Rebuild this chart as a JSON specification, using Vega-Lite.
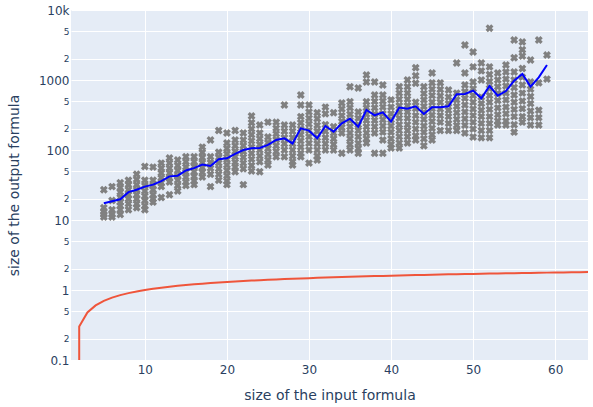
{
"$schema": "https://vega.github.io/schema/vega-lite/v6.json",
"width": 517, "height": 350,
"autosize": {"type": "none"},
"padding": {"left": 71, "top": 10, "right": 5, "bottom": 47},
"background": "white",
"config": {"view": {"fill": "#E5ECF6", "stroke": null}, "font": "DejaVu Sans"},
"datasets": {
"pts": [
{"input":5,"output":27},{"input":5,"output":15},{"input":5,"output":13},{"input":5,"output":12},{"input":5,"output":11},
{"input":6,"output":30},{"input":6,"output":19},{"input":6,"output":14},{"input":6,"output":12},{"input":6,"output":11},
{"input":7,"output":34},{"input":7,"output":29},{"input":7,"output":25},{"input":7,"output":21},{"input":7,"output":18},{"input":7,"output":16},{"input":7,"output":14},{"input":7,"output":12},
{"input":8,"output":37},{"input":8,"output":32},{"input":8,"output":27},{"input":8,"output":23},{"input":8,"output":20},{"input":8,"output":17},{"input":8,"output":14},
{"input":9,"output":45},{"input":9,"output":38},{"input":9,"output":32},{"input":9,"output":27},{"input":9,"output":23},{"input":9,"output":20},{"input":9,"output":17},{"input":9,"output":15},
{"input":10,"output":58},{"input":10,"output":37},{"input":10,"output":31},{"input":10,"output":26},{"input":10,"output":22},{"input":10,"output":19},{"input":10,"output":16},{"input":10,"output":14},
{"input":11,"output":57},{"input":11,"output":37},{"input":11,"output":31},{"input":11,"output":27},{"input":11,"output":23},{"input":11,"output":20},{"input":11,"output":18},
{"input":12,"output":65},{"input":12,"output":55},{"input":12,"output":47},{"input":12,"output":40},{"input":12,"output":34},{"input":12,"output":30},{"input":12,"output":21},
{"input":13,"output":77},{"input":13,"output":65},{"input":13,"output":55},{"input":13,"output":47},{"input":13,"output":40},{"input":13,"output":35},{"input":13,"output":23},
{"input":14,"output":72},{"input":14,"output":60},{"input":14,"output":51},{"input":14,"output":43},{"input":14,"output":37},{"input":14,"output":31},{"input":14,"output":26},
{"input":15,"output":80},{"input":15,"output":68},{"input":15,"output":57},{"input":15,"output":48},{"input":15,"output":41},{"input":15,"output":35},{"input":15,"output":31},
{"input":16,"output":80},{"input":16,"output":68},{"input":16,"output":58},{"input":16,"output":49},{"input":16,"output":42},{"input":16,"output":36},{"input":16,"output":32},
{"input":17,"output":110},{"input":17,"output":92},{"input":17,"output":78},{"input":17,"output":66},{"input":17,"output":56},{"input":17,"output":48},{"input":17,"output":41},
{"input":18,"output":139},{"input":18,"output":80},{"input":18,"output":66},{"input":18,"output":55},{"input":18,"output":45},{"input":18,"output":30},
{"input":19,"output":190},{"input":19,"output":93},{"input":19,"output":78},{"input":19,"output":65},{"input":19,"output":54},{"input":19,"output":45},{"input":19,"output":37},
{"input":20,"output":175},{"input":20,"output":126},{"input":20,"output":105},{"input":20,"output":88},{"input":20,"output":73},{"input":20,"output":61},{"input":20,"output":51},{"input":20,"output":43},{"input":20,"output":36},{"input":20,"output":32},
{"input":21,"output":190},{"input":21,"output":139},{"input":21,"output":115},{"input":21,"output":95},{"input":21,"output":80},{"input":21,"output":67},{"input":21,"output":57},{"input":21,"output":49},
{"input":22,"output":175},{"input":22,"output":139},{"input":22,"output":115},{"input":22,"output":95},{"input":22,"output":79},{"input":22,"output":65},{"input":22,"output":54},{"input":22,"output":32},
{"input":23,"output":306},{"input":23,"output":245},{"input":23,"output":200},{"input":23,"output":165},{"input":23,"output":135},{"input":23,"output":110},{"input":23,"output":90},{"input":23,"output":74},{"input":23,"output":60},{"input":23,"output":50},
{"input":24,"output":227},{"input":24,"output":175},{"input":24,"output":145},{"input":24,"output":120},{"input":24,"output":100},{"input":24,"output":82},{"input":24,"output":68},{"input":24,"output":49},
{"input":25,"output":250},{"input":25,"output":153},{"input":25,"output":127},{"input":25,"output":105},{"input":25,"output":87},{"input":25,"output":72},{"input":25,"output":61},
{"input":26,"output":250},{"input":26,"output":205},{"input":26,"output":170},{"input":26,"output":140},{"input":26,"output":115},{"input":26,"output":95},{"input":26,"output":80},
{"input":27,"output":440},{"input":27,"output":227},{"input":27,"output":185},{"input":27,"output":150},{"input":27,"output":123},{"input":27,"output":100},{"input":27,"output":80},
{"input":28,"output":227},{"input":28,"output":185},{"input":28,"output":150},{"input":28,"output":123},{"input":28,"output":100},{"input":28,"output":82},{"input":28,"output":68},{"input":28,"output":61},
{"input":29,"output":610},{"input":29,"output":440},{"input":29,"output":300},{"input":29,"output":245},{"input":29,"output":200},{"input":29,"output":165},{"input":29,"output":135},{"input":29,"output":110},{"input":29,"output":90},{"input":29,"output":80},
{"input":30,"output":440},{"input":30,"output":350},{"input":30,"output":285},{"input":30,"output":235},{"input":30,"output":190},{"input":30,"output":155},{"input":30,"output":125},{"input":30,"output":100},{"input":30,"output":65},
{"input":31,"output":340},{"input":31,"output":280},{"input":31,"output":225},{"input":31,"output":185},{"input":31,"output":150},{"input":31,"output":123},{"input":31,"output":100},{"input":31,"output":82},{"input":31,"output":72},
{"input":32,"output":410},{"input":32,"output":330},{"input":32,"output":230},{"input":32,"output":185},{"input":32,"output":150},{"input":32,"output":123},{"input":32,"output":100},
{"input":33,"output":340},{"input":33,"output":215},{"input":33,"output":175},{"input":33,"output":145},{"input":33,"output":120},{"input":33,"output":100},
{"input":34,"output":470},{"input":34,"output":385},{"input":34,"output":310},{"input":34,"output":255},{"input":34,"output":210},{"input":34,"output":175},{"input":34,"output":90},
{"input":35,"output":800},{"input":35,"output":490},{"input":35,"output":400},{"input":35,"output":325},{"input":35,"output":265},{"input":35,"output":215},{"input":35,"output":175},{"input":35,"output":145},{"input":35,"output":120},{"input":35,"output":100},
{"input":36,"output":770},{"input":36,"output":350},{"input":36,"output":285},{"input":36,"output":230},{"input":36,"output":190},{"input":36,"output":155},{"input":36,"output":125},{"input":36,"output":105},{"input":36,"output":90},
{"input":37,"output":1180},{"input":37,"output":935},{"input":37,"output":490},{"input":37,"output":400},{"input":37,"output":325},{"input":37,"output":265},{"input":37,"output":215},{"input":37,"output":175},{"input":37,"output":145},{"input":37,"output":126},
{"input":38,"output":935},{"input":38,"output":610},{"input":38,"output":495},{"input":38,"output":400},{"input":38,"output":325},{"input":38,"output":265},{"input":38,"output":215},{"input":38,"output":175},{"input":38,"output":90},
{"input":39,"output":850},{"input":39,"output":610},{"input":39,"output":500},{"input":39,"output":410},{"input":39,"output":330},{"input":39,"output":270},{"input":39,"output":220},{"input":39,"output":180},{"input":39,"output":139},{"input":39,"output":90},
{"input":40,"output":520},{"input":40,"output":410},{"input":40,"output":330},{"input":40,"output":270},{"input":40,"output":220},{"input":40,"output":180},{"input":40,"output":145},{"input":40,"output":120},{"input":40,"output":107},
{"input":41,"output":800},{"input":41,"output":650},{"input":41,"output":530},{"input":41,"output":430},{"input":41,"output":350},{"input":41,"output":285},{"input":41,"output":230},{"input":41,"output":190},{"input":41,"output":155},{"input":41,"output":126},{"input":41,"output":107},
{"input":42,"output":1000},{"input":42,"output":800},{"input":42,"output":650},{"input":42,"output":530},{"input":42,"output":430},{"input":42,"output":350},{"input":42,"output":285},{"input":42,"output":230},{"input":42,"output":190},{"input":42,"output":155},{"input":42,"output":126},
{"input":43,"output":1500},{"input":43,"output":1150},{"input":43,"output":900},{"input":43,"output":480},{"input":43,"output":390},{"input":43,"output":310},{"input":43,"output":250},{"input":43,"output":200},{"input":43,"output":160},{"input":43,"output":139},
{"input":44,"output":800},{"input":44,"output":640},{"input":44,"output":520},{"input":44,"output":420},{"input":44,"output":340},{"input":44,"output":275},{"input":44,"output":220},{"input":44,"output":180},{"input":44,"output":145},{"input":44,"output":115},
{"input":45,"output":1260},{"input":45,"output":910},{"input":45,"output":740},{"input":45,"output":600},{"input":45,"output":480},{"input":45,"output":390},{"input":45,"output":315},{"input":45,"output":255},{"input":45,"output":205},{"input":45,"output":165},{"input":45,"output":139},
{"input":46,"output":910},{"input":46,"output":730},{"input":46,"output":590},{"input":46,"output":480},{"input":46,"output":385},{"input":46,"output":310},{"input":46,"output":250},{"input":46,"output":190},
{"input":47,"output":720},{"input":47,"output":570},{"input":47,"output":460},{"input":47,"output":370},{"input":47,"output":300},{"input":47,"output":240},{"input":47,"output":190},
{"input":48,"output":1750},{"input":48,"output":650},{"input":48,"output":520},{"input":48,"output":420},{"input":48,"output":340},{"input":48,"output":275},{"input":48,"output":225},{"input":48,"output":190},
{"input":49,"output":3160},{"input":49,"output":1260},{"input":49,"output":850},{"input":49,"output":680},{"input":49,"output":550},{"input":49,"output":440},{"input":49,"output":350},{"input":49,"output":280},{"input":49,"output":225},{"input":49,"output":175},
{"input":50,"output":2510},{"input":50,"output":1540},{"input":50,"output":935},{"input":50,"output":750},{"input":50,"output":600},{"input":50,"output":480},{"input":50,"output":385},{"input":50,"output":310},{"input":50,"output":250},{"input":50,"output":200},{"input":50,"output":153},
{"input":51,"output":1750},{"input":51,"output":1350},{"input":51,"output":1000},{"input":51,"output":570},{"input":51,"output":460},{"input":51,"output":370},{"input":51,"output":300},{"input":51,"output":240},{"input":51,"output":190},{"input":51,"output":150},
{"input":52,"output":5500},{"input":52,"output":1540},{"input":52,"output":1200},{"input":52,"output":950},{"input":52,"output":760},{"input":52,"output":600},{"input":52,"output":480},{"input":52,"output":380},{"input":52,"output":300},{"input":52,"output":240},{"input":52,"output":190},{"input":52,"output":150},
{"input":53,"output":1260},{"input":53,"output":1000},{"input":53,"output":800},{"input":53,"output":640},{"input":53,"output":510},{"input":53,"output":400},{"input":53,"output":320},{"input":53,"output":260},{"input":53,"output":227},
{"input":54,"output":1640},{"input":54,"output":1300},{"input":54,"output":1030},{"input":54,"output":820},{"input":54,"output":650},{"input":54,"output":520},{"input":54,"output":410},{"input":54,"output":330},{"input":54,"output":260},{"input":54,"output":227},
{"input":55,"output":3720},{"input":55,"output":2080},{"input":55,"output":1300},{"input":55,"output":1000},{"input":55,"output":780},{"input":55,"output":610},{"input":55,"output":480},{"input":55,"output":380},{"input":55,"output":300},{"input":55,"output":230},{"input":55,"output":180},
{"input":56,"output":3500},{"input":56,"output":2700},{"input":56,"output":2200},{"input":56,"output":1460},{"input":56,"output":1100},{"input":56,"output":850},{"input":56,"output":650},{"input":56,"output":500},{"input":56,"output":390},{"input":56,"output":300},{"input":56,"output":250},
{"input":57,"output":1930},{"input":57,"output":935},{"input":57,"output":740},{"input":57,"output":580},{"input":57,"output":460},{"input":57,"output":360},{"input":57,"output":290},{"input":57,"output":227},
{"input":58,"output":3720},{"input":58,"output":910},{"input":58,"output":370},{"input":58,"output":290},{"input":58,"output":227},
{"input":59,"output":2270},{"input":59,"output":1030}
],
"avg": [
{"input":5,"output":17.3},{"input":6,"output":18.5},{"input":7,"output":19.8},{"input":8,"output":25},{"input":9,"output":27},{"input":10,"output":30},
{"input":11,"output":32},{"input":12,"output":36},{"input":13,"output":42},{"input":14,"output":43},{"input":15,"output":51},{"input":16,"output":55},
{"input":17,"output":62},{"input":18,"output":59},{"input":19,"output":74},{"input":20,"output":76},{"input":21,"output":88},{"input":22,"output":100},
{"input":23,"output":106},{"input":24,"output":107},{"input":25,"output":118},{"input":26,"output":139},{"input":27,"output":147},{"input":28,"output":124},
{"input":29,"output":204},{"input":30,"output":189},{"input":31,"output":147},{"input":32,"output":220},{"input":33,"output":183},{"input":34,"output":240},
{"input":35,"output":280},{"input":36,"output":215},{"input":37,"output":373},{"input":38,"output":313},{"input":39,"output":345},{"input":40,"output":254},
{"input":41,"output":403},{"input":42,"output":389},{"input":43,"output":421},{"input":44,"output":327},{"input":45,"output":407},{"input":46,"output":407},
{"input":47,"output":421},{"input":48,"output":624},{"input":49,"output":631},{"input":50,"output":705},{"input":51,"output":547},{"input":52,"output":821},
{"input":53,"output":597},{"input":54,"output":696},{"input":55,"output":977},{"input":56,"output":1219},{"input":57,"output":804},{"input":58,"output":1092},{"input":59,"output":1638}
],
"lg": [
{"input":2,"output":0.1},{"input":2,"output":0.301},{"input":3,"output":0.477},{"input":4,"output":0.602},{"input":5,"output":0.699},{"input":6,"output":0.778},{"input":7,"output":0.845},{"input":8,"output":0.903},{"input":9,"output":0.954},
{"input":10,"output":1},{"input":11,"output":1.041},{"input":12,"output":1.079},{"input":13,"output":1.114},{"input":14,"output":1.146},{"input":15,"output":1.176},{"input":16,"output":1.204},{"input":17,"output":1.23},{"input":18,"output":1.255},{"input":19,"output":1.279},
{"input":20,"output":1.301},{"input":21,"output":1.322},{"input":22,"output":1.342},{"input":23,"output":1.362},{"input":24,"output":1.38},{"input":25,"output":1.398},{"input":26,"output":1.415},{"input":27,"output":1.431},{"input":28,"output":1.447},{"input":29,"output":1.462},
{"input":30,"output":1.477},{"input":31,"output":1.491},{"input":32,"output":1.505},{"input":33,"output":1.519},{"input":34,"output":1.531},{"input":35,"output":1.544},{"input":36,"output":1.556},{"input":37,"output":1.568},{"input":38,"output":1.58},{"input":39,"output":1.591},
{"input":40,"output":1.602},{"input":41,"output":1.613},{"input":42,"output":1.623},{"input":43,"output":1.633},{"input":44,"output":1.643},{"input":45,"output":1.653},{"input":46,"output":1.663},{"input":47,"output":1.672},{"input":48,"output":1.681},{"input":49,"output":1.69},
{"input":50,"output":1.699},{"input":51,"output":1.708},{"input":52,"output":1.716},{"input":53,"output":1.724},{"input":54,"output":1.732},{"input":55,"output":1.74},{"input":56,"output":1.748},{"input":57,"output":1.756},{"input":58,"output":1.763},{"input":59,"output":1.771},
{"input":60,"output":1.778},{"input":61,"output":1.785},{"input":62,"output":1.792},{"input":63,"output":1.799},{"input":64,"output":1.806}
]
},
"encoding": {
"x": {"field": "input", "type": "quantitative",
 "scale": {"domain": [1, 64], "nice": false, "zero": false},
 "axis": {"values": [10,20,30,40,50,60], "grid": true, "gridColor": "white", "gridWidth": 1, "domain": false, "ticks": false, "tickSize": 0,
  "labelPadding": 4, "labelFontSize": 12, "labelColor": "#2a3f5f", "labelFont": "DejaVu Sans", "labelFlush": false, "labelOverlap": false,
  "title": "size of the input formula", "titleFont": "DejaVu Sans", "titleFontSize": 14, "titleFontWeight": "normal", "titleColor": "#2a3f5f",
  "titleX": 258.5, "titleY": 39, "titleBaseline": "alphabetic", "titleAlign": "center"}},
"y": {"field": "output", "type": "quantitative",
 "scale": {"type": "log", "domain": [0.1, 10000], "nice": false},
 "axis": {"values": [0.1,0.2,0.5,1,2,5,10,20,50,100,200,500,1000,2000,5000,10000], "grid": true, "gridColor": "white", "gridWidth": 1, "domain": false, "ticks": false, "tickSize": 0,
  "labelPadding": 2, "labelColor": "#2a3f5f", "labelFont": "DejaVu Sans", "labelFlush": false, "labelOverlap": false, "labelBound": false,
  "labelFontSize": {"condition": {"test": "datum.value == 0.1 || datum.value == 1 || datum.value == 10 || datum.value == 100 || datum.value == 1000 || datum.value == 10000", "value": 12}, "value": 9},
  "labelExpr": "datum.value == 10000 ? '10k' : (datum.value == 0.1 ? '0.1' : ((datum.value == 1 || datum.value == 10 || datum.value == 100 || datum.value == 1000) ? format(datum.value, 'd') : (indexof(toString(datum.value), '2') >= 0 ? '2' : '5')))",
  "title": "size of the output formula", "titleFont": "DejaVu Sans", "titleFontSize": 14, "titleFontWeight": "normal", "titleColor": "#2a3f5f",
  "titleX": -52.5, "titleY": 175, "titleAngle": -90, "titleBaseline": "alphabetic", "titleAlign": "center"}}
},
"layer": [
{"data": {"name": "pts"}, "mark": {"type": "point", "shape": "cross", "angle": 45, "filled": true, "color": "#808080", "size": 64, "opacity": 1, "strokeWidth": 0, "clip": true}},
{"data": {"name": "avg"}, "mark": {"type": "line", "color": "#0000ff", "strokeWidth": 2, "clip": true}},
{"data": {"name": "lg"}, "mark": {"type": "line", "color": "#EF553B", "strokeWidth": 2, "clip": true}}
]
}
